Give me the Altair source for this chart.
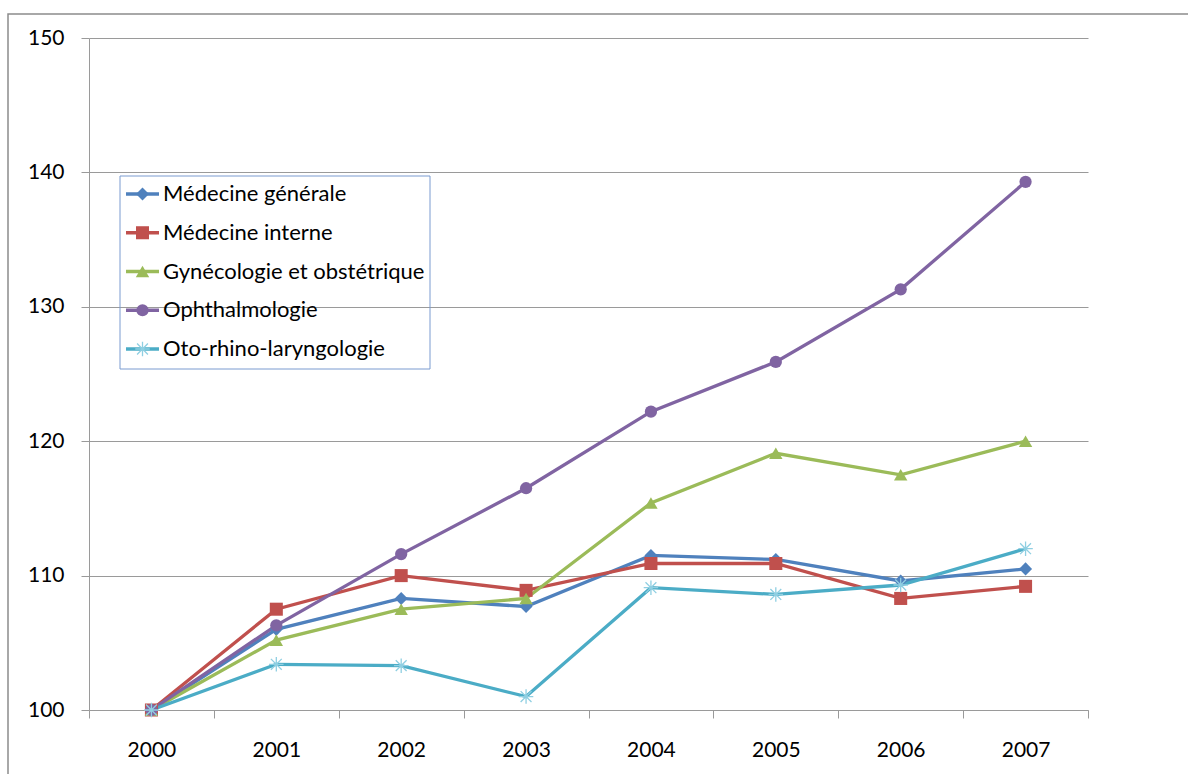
import altair as alt
import pandas as pd

# Indices (base 100 en 2000) par spécialité
years = ["2000", "2001", "2002", "2003", "2004", "2005", "2006", "2007"]
series = [
    "Médecine générale",
    "Médecine interne",
    "Gynécologie et obstétrique",
    "Ophthalmologie",
    "Oto-rhino-laryngologie",
]
medecine_generale = [100.0, 106.0, 108.3, 107.7, 111.5, 111.2, 109.6, 110.5]
medecine_interne = [100.0, 107.5, 110.0, 108.9, 110.9, 110.9, 108.3, 109.2]
gynecologie = [100.0, 105.2, 107.5, 108.3, 115.4, 119.1, 117.5, 120.0]
ophthalmologie = [100.0, 106.3, 111.6, 116.5, 122.2, 125.9, 131.3, 139.3]
orl = [100.0, 103.4, 103.3, 101.0, 109.1, 108.6, 109.3, 112.0]

colors = ["#4F81BD", "#C0504D", "#9BBB59", "#8064A2", "#4BACC6"]
FONT = "Lato"
GRID = "#9a9a9a"

values = [medecine_generale, medecine_interne, gynecologie, ophthalmologie, orl]
df = pd.DataFrame(
    [
        {"Année": y, "Série": s, "Indice": v}
        for s, vals in zip(series, values)
        for y, v in zip(years, vals)
    ]
)
legend_df = pd.DataFrame({"Série": series})

W, H = 999, 672
PAD = {"left": 89, "top": 38, "right": 100, "bottom": 64}

x_enc = alt.X(
    "Année:N",
    sort=years,
    scale=alt.Scale(type="band", paddingInner=0, paddingOuter=0),
    axis=alt.Axis(
        title=None,
        labelAngle=0,
        tickBand="extent",
        domainColor=GRID,
        tickColor=GRID,
        tickSize=8,
        labelFont=FONT,
        labelFontSize=21,
        labelColor="#000000",
        labelPadding=21,
        grid=False,
    ),
)
y_enc = alt.Y(
    "Indice:Q",
    scale=alt.Scale(domain=[100, 150], nice=False, zero=False),
    axis=alt.Axis(
        title=None,
        values=[100, 110, 120, 130, 140, 150],
        domainColor=GRID,
        tickColor=GRID,
        gridColor=GRID,
        tickSize=8,
        labelFont=FONT,
        labelFontSize=21,
        labelColor="#000000",
        labelPadding=17,
    ),
)
stroke_enc = alt.Stroke(
    "Série:N", scale=alt.Scale(domain=series, range=colors), legend=None
)

lines = alt.Chart(df).mark_line(strokeWidth=3.3).encode(
    x=x_enc, y=y_enc, stroke=stroke_enc, order=alt.Order("Année:O")
)

# Marker paths, in the [-1, 1] symbol box
ASTERISK = "M0,-1L0,1M-0.75,-0.75L0.75,0.75M-0.75,0.75L0.75,-0.75M-1,0L1,0"
markers = [
    {"shape": "diamond", "size": 170, "filled": True, "color": colors[0]},
    {"shape": "square", "size": 170, "filled": True, "color": colors[1]},
    {"shape": "triangle-up", "size": 180, "filled": True, "color": colors[2]},
    {"shape": "circle", "size": 150, "filled": True, "color": colors[3]},
    {"shape": ASTERISK, "size": 210, "filled": False, "color": "#8fcfe2"},
]


def marker_kw(m):
    kw = dict(shape=m["shape"], size=m["size"], filled=m["filled"], opacity=1)
    if m["filled"]:
        kw["color"] = m["color"]
    else:
        kw["stroke"] = m["color"]
        kw["strokeWidth"] = 1.3
    return kw


point_layers = [
    alt.Chart(df)
    .transform_filter(alt.datum["Série"] == s)
    .mark_point(**marker_kw(m))
    .encode(x=x_enc, y=y_enc)
    for s, m in zip(series, markers)
]

# Outer frame of the chart area
frame = (
    alt.Chart(alt.Data(values=[{"frame": 1}]))
    .mark_rect(fill="transparent", stroke="#8c8c8c", strokeWidth=1.5)
    .encode(x=alt.value(-81), x2=alt.value(1115), y=alt.value(-24), y2=alt.value(760))
)

plot = alt.layer(frame, lines, *point_layers)

# Legend box drawn inside the plot area: one row per series
row_y = alt.Y(
    "Série:N",
    sort=series,
    scale=alt.Scale(type="point", domain=series, range=[156, 311], padding=0),
    axis=None,
)
leg_box = (
    alt.Chart(alt.Data(values=[{"box": 1}]))
    .mark_rect(fill="transparent", stroke="#7b9bd0", strokeWidth=1)
    .encode(x=alt.value(31), x2=alt.value(341), y=alt.value(138), y2=alt.value(331))
)
leg_lines = (
    alt.Chart(legend_df)
    .mark_rule(strokeWidth=3.3)
    .encode(x=alt.value(37), x2=alt.value(70), y=row_y, stroke=stroke_enc)
)
leg_points = [
    alt.Chart(legend_df)
    .transform_filter(alt.datum["Série"] == s)
    .mark_point(**marker_kw(m))
    .encode(x=alt.value(53.5), y=row_y)
    for s, m in zip(series, markers)
]
leg_text = (
    alt.Chart(legend_df)
    .mark_text(align="left", baseline="middle", font=FONT, fontSize=22, color="#000000")
    .encode(x=alt.value(74), y=row_y, text="Série:N")
)
legend = alt.layer(leg_box, leg_lines, *leg_points, leg_text)

chart = (
    alt.layer(plot, legend)
    .resolve_scale(y="independent")
    .properties(
        width=W,
        height=H,
        padding=PAD,
        autosize=alt.AutoSizeParams(type="none"),
        background="#ffffff",
    )
    .configure_view(stroke=None)
    .configure_axis(gridWidth=1, domainWidth=1, tickWidth=1)
)

chart.save("out.html", embed_options={"renderer": "svg", "actions": False})
